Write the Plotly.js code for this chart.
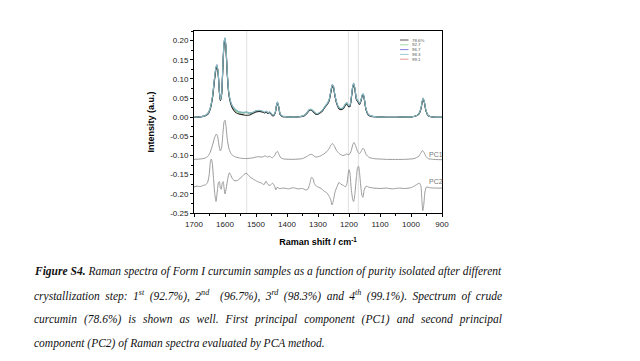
<!DOCTYPE html>
<html>
<head>
<meta charset="utf-8">
<script src="https://cdn.plot.ly/plotly-3.0.1.min.js"></script>
<style>html,body{margin:0;padding:0;background:#fff;}#chart{width:640px;height:361px;}</style>
</head>
<body>
<div id="chart"></div>
<script>
// ---------- DATA ----------
const shift = [1700,1680,1665,1655,1648,1640,1634,1629,1626,1622,1618,1615,1611,1607,1603,1600,1597,1593,1588,1582,1575,1565,1553,1540,1530,1520,1510,1500,1490,1480,1472,1467,1462,1456,1450,1445,1438,1434,1431,1427,1422,1415,1400,1380,1360,1345,1335,1328,1322,1315,1305,1295,1285,1277,1270,1264,1258,1254,1250,1246,1240,1232,1224,1218,1212,1207,1202,1197,1192,1188,1185,1181,1176,1171,1166,1161,1157,1154,1150,1145,1138,1128,1110,1080,1050,1020,1000,985,975,968,964,961,957,952,945,935,920,900];

const s786 = [0.000,0.001,0.003,0.008,0.020,0.052,0.095,0.125,0.131,0.112,0.064,0.043,0.058,0.126,0.190,0.200,0.180,0.116,0.062,0.036,0.022,0.012,0.008,0.006,0.005,0.006,0.010,0.014,0.015,0.014,0.011,0.014,0.010,0.012,0.007,0.003,0.011,0.029,0.038,0.027,0.007,0.002,0.001,0.000,0.001,0.004,0.011,0.018,0.019,0.014,0.007,0.010,0.017,0.027,0.034,0.043,0.067,0.080,0.077,0.058,0.036,0.022,0.020,0.023,0.031,0.035,0.028,0.028,0.052,0.077,0.085,0.072,0.046,0.040,0.033,0.043,0.056,0.058,0.043,0.019,0.006,0.002,0.001,0.000,0.000,0.001,0.001,0.003,0.008,0.021,0.039,0.048,0.039,0.017,0.004,0.001,0.000,0.000];
const s927 = [0.000,0.001,0.004,0.010,0.022,0.055,0.099,0.129,0.135,0.114,0.065,0.045,0.060,0.129,0.194,0.205,0.184,0.119,0.064,0.039,0.026,0.017,0.012,0.011,0.012,0.010,0.012,0.016,0.017,0.015,0.012,0.015,0.011,0.013,0.008,0.004,0.012,0.030,0.039,0.028,0.008,0.002,0.001,0.000,0.001,0.004,0.012,0.019,0.020,0.015,0.008,0.011,0.018,0.028,0.035,0.045,0.069,0.083,0.079,0.060,0.038,0.024,0.022,0.025,0.033,0.037,0.030,0.030,0.055,0.079,0.087,0.075,0.048,0.042,0.035,0.045,0.058,0.060,0.045,0.020,0.007,0.003,0.001,0.000,0.000,0.001,0.001,0.003,0.008,0.022,0.040,0.049,0.040,0.018,0.005,0.001,0.000,0.000];
const s967 = [0.000,0.001,0.004,0.010,0.022,0.055,0.100,0.130,0.136,0.115,0.065,0.045,0.060,0.130,0.195,0.206,0.185,0.120,0.065,0.040,0.027,0.018,0.013,0.012,0.013,0.010,0.012,0.016,0.017,0.015,0.012,0.015,0.011,0.013,0.008,0.004,0.012,0.030,0.039,0.028,0.008,0.002,0.001,0.000,0.001,0.004,0.012,0.019,0.020,0.015,0.008,0.011,0.018,0.028,0.035,0.045,0.070,0.084,0.080,0.060,0.038,0.024,0.022,0.025,0.033,0.037,0.030,0.030,0.055,0.080,0.088,0.075,0.048,0.042,0.035,0.045,0.058,0.060,0.045,0.020,0.007,0.003,0.001,0.000,0.000,0.001,0.001,0.003,0.008,0.022,0.040,0.049,0.040,0.018,0.005,0.001,0.000,0.000];
const s983 = [0.000,0.001,0.004,0.010,0.022,0.056,0.101,0.131,0.137,0.116,0.066,0.046,0.061,0.131,0.196,0.207,0.186,0.121,0.066,0.041,0.028,0.019,0.014,0.013,0.014,0.011,0.013,0.017,0.018,0.016,0.013,0.016,0.012,0.014,0.009,0.005,0.013,0.031,0.040,0.029,0.009,0.003,0.001,0.000,0.001,0.005,0.012,0.020,0.021,0.016,0.009,0.012,0.019,0.029,0.036,0.046,0.071,0.085,0.081,0.061,0.039,0.025,0.023,0.026,0.034,0.038,0.031,0.031,0.056,0.081,0.089,0.076,0.049,0.043,0.036,0.046,0.059,0.061,0.046,0.021,0.008,0.003,0.001,0.000,0.000,0.001,0.001,0.003,0.009,0.023,0.041,0.050,0.041,0.019,0.005,0.001,0.000,0.000];
const s991 = [0.000,0.001,0.004,0.010,0.022,0.055,0.100,0.130,0.136,0.115,0.065,0.045,0.060,0.130,0.195,0.206,0.185,0.120,0.065,0.040,0.027,0.018,0.013,0.012,0.013,0.010,0.012,0.016,0.017,0.015,0.012,0.015,0.011,0.013,0.008,0.004,0.012,0.030,0.039,0.028,0.008,0.002,0.001,0.000,0.001,0.004,0.012,0.019,0.020,0.015,0.008,0.011,0.018,0.028,0.035,0.045,0.070,0.084,0.080,0.060,0.038,0.024,0.022,0.025,0.033,0.037,0.030,0.030,0.055,0.080,0.088,0.075,0.048,0.042,0.035,0.045,0.058,0.060,0.045,0.020,0.007,0.003,0.001,0.000,0.000,0.001,0.001,0.003,0.008,0.022,0.040,0.049,0.040,0.018,0.005,0.001,0.000,0.000];

const pc1Shift = [1700,1680,1665,1655,1648,1640,1633,1628,1624,1619,1615,1611,1607,1603,1600,1597,1593,1588,1582,1575,1565,1550,1530,1510,1495,1480,1470,1462,1456,1448,1440,1435,1431,1427,1420,1410,1380,1350,1335,1325,1318,1308,1295,1283,1272,1264,1258,1253,1248,1240,1230,1220,1212,1207,1200,1193,1188,1184,1179,1172,1166,1160,1155,1151,1145,1135,1120,1080,1020,990,975,968,963,958,952,945,930,900];
const pc1 = [-0.110,-0.109,-0.107,-0.102,-0.092,-0.072,-0.052,-0.044,-0.050,-0.075,-0.088,-0.080,-0.045,-0.012,-0.008,-0.022,-0.055,-0.080,-0.093,-0.100,-0.104,-0.107,-0.108,-0.106,-0.103,-0.104,-0.101,-0.104,-0.102,-0.106,-0.100,-0.092,-0.089,-0.095,-0.106,-0.109,-0.110,-0.108,-0.102,-0.097,-0.098,-0.104,-0.102,-0.097,-0.090,-0.082,-0.072,-0.069,-0.074,-0.087,-0.096,-0.100,-0.098,-0.096,-0.098,-0.088,-0.072,-0.066,-0.074,-0.090,-0.095,-0.088,-0.081,-0.084,-0.097,-0.105,-0.108,-0.110,-0.110,-0.108,-0.102,-0.093,-0.087,-0.092,-0.102,-0.108,-0.110,-0.111];

const pc2Shift = [1700,1690,1680,1670,1662,1656,1651,1647,1644,1641,1637,1633,1629,1625,1621,1618,1615,1612,1609,1606,1603,1600,1596,1591,1586,1582,1575,1568,1560,1552,1545,1538,1532,1526,1518,1508,1495,1482,1474,1468,1463,1458,1453,1447,1441,1436,1432,1425,1410,1395,1380,1365,1350,1340,1333,1327,1321,1316,1312,1305,1298,1290,1280,1272,1265,1259,1255,1251,1245,1238,1232,1226,1218,1212,1207,1203,1200,1197,1193,1188,1185,1181,1176,1172,1169,1166,1162,1158,1155,1151,1145,1135,1120,1100,1080,1060,1040,1020,1000,990,980,973,968,965,962,959,955,950,940,920,900];
const pc2 = [-0.182,-0.180,-0.181,-0.178,-0.176,-0.170,-0.150,-0.115,-0.109,-0.120,-0.160,-0.200,-0.220,-0.195,-0.170,-0.168,-0.185,-0.188,-0.172,-0.168,-0.185,-0.200,-0.185,-0.160,-0.145,-0.150,-0.162,-0.166,-0.165,-0.160,-0.155,-0.149,-0.146,-0.150,-0.157,-0.162,-0.168,-0.172,-0.176,-0.167,-0.174,-0.178,-0.177,-0.172,-0.178,-0.190,-0.183,-0.186,-0.185,-0.187,-0.184,-0.187,-0.186,-0.190,-0.188,-0.175,-0.157,-0.160,-0.173,-0.180,-0.183,-0.186,-0.193,-0.197,-0.205,-0.215,-0.229,-0.220,-0.195,-0.180,-0.170,-0.175,-0.178,-0.182,-0.175,-0.150,-0.137,-0.145,-0.185,-0.215,-0.220,-0.200,-0.155,-0.130,-0.128,-0.145,-0.180,-0.205,-0.209,-0.190,-0.180,-0.183,-0.185,-0.186,-0.185,-0.187,-0.185,-0.186,-0.184,-0.180,-0.175,-0.172,-0.180,-0.215,-0.244,-0.230,-0.195,-0.182,-0.184,-0.185,-0.185];

const seriesNames = ['78.6%','92.7','96.7','98.3','99.1'];
const seriesColors = ['#2b2b2b','#8fd48f','#6060d8','#86b9c4','#e07a7a'];
const seriesData = [s786, s927, s967, s983, s991];
const drawOrder = [4, 2, 1, 0, 3];
const refLines = [1530, 1202, 1170];
const pcLabels = ['PC1','PC2'];
const xTicks = [1700,1600,1500,1400,1300,1200,1100,1000,900];
const yTicks = [-0.25,-0.20,-0.15,-0.10,-0.05,0.00,0.05,0.10,0.15,0.20];

const captionLines = [
 '<b>Figure S4.</b> Raman spectra of Form I curcumin samples as a function of purity isolated after different',
 'crystallization step: 1<sup>st</sup> (92.7%), 2<sup>nd</sup>  (96.7%), 3<sup>rd</sup> (98.3%) and 4<sup>th</sup> (99.1%). Spectrum of crude',
 'curcumin (78.6%) is shown as well. First principal component (PC1) and second principal',
 'component (PC2) of Raman spectra evaluated by PCA method.'
];
const captionJustify = [true, true, true, false];

// ---------- LAYOUT HELPERS ----------
const W = 640, H = 361;
const M = {l:194, r:198, t:31, b:148};
const pw = W - M.l - M.r, ph = H - M.t - M.b;
const px = x => (x - M.l) / pw;
const py = y => (M.t + ph - y) / ph;

const traces = [];
drawOrder.forEach(i => {
  traces.push({x: shift, y: seriesData[i], type:'scatter', mode:'lines', name: seriesNames[i],
    line:{color: seriesColors[i], width:1.1, shape:'spline', smoothing:0.6}, showlegend:false, hoverinfo:'skip'});
});
traces.push({x: pc1Shift, y: pc1, type:'scatter', mode:'lines', name:'PC1',
  line:{color:'#9a9a9a', width:1, shape:'spline', smoothing:0.5}, showlegend:false});
traces.push({x: pc2Shift, y: pc2, type:'scatter', mode:'lines', name:'PC2',
  line:{color:'#9a9a9a', width:1, shape:'spline', smoothing:0.5}, showlegend:false});

const shapes = refLines.map(v => ({type:'line', xref:'x', yref:'paper', x0:v, x1:v, y0:0, y1:1,
  line:{color:'#e0e0e0', width:1}, layer:'below'}));

const annotations = [];
// legend (manual, compact)
const legTop = 40, legStep = 4.8;
seriesNames.forEach((n, i) => {
  const yy = legTop + i*legStep;
  shapes.push({type:'line', xref:'paper', yref:'paper', x0:px(400), x1:px(408.5), y0:py(yy), y1:py(yy),
    line:{color: seriesColors[i], width:0.8}});
  annotations.push({xref:'paper', yref:'paper', x:px(409.5), y:py(yy), text:n, showarrow:false,
    xanchor:'left', yanchor:'middle', font:{family:'Liberation Sans, Arial', size:4.4, color:'#555'}});
});
// PC labels
annotations.push({xref:'paper', yref:'paper', x:px(427), y:py(154), text:pcLabels[0], showarrow:false,
  xanchor:'left', yanchor:'middle', font:{family:'Liberation Sans, Arial', size:7, color:'#777'}});
annotations.push({xref:'paper', yref:'paper', x:px(427), y:py(181), text:pcLabels[1], showarrow:false,
  xanchor:'left', yanchor:'middle', font:{family:'Liberation Sans, Arial', size:7, color:'#777'}});
// caption
const capFirst = annotations.length;
const capY = [271.5, 295.5, 319.5, 343];
const capLeft = 32, capRight = 500;
captionLines.forEach((t, i) => {
  annotations.push({xref:'paper', yref:'paper', x:px(capLeft), y:py(capY[i]), text:'<i>'+t+'</i>', showarrow:false,
    xanchor:'left', yanchor:'middle', align:'left',
    font:{family:'Liberation Serif, Times New Roman, serif', size:11.5, color:'#111'}});
});

const axisCommon = {showline:true, linecolor:'#000', linewidth:1, mirror:true, ticks:'outside',
  ticklen:3, tickwidth:1, tickcolor:'#000', showgrid:false, zeroline:false,
  tickfont:{family:'Liberation Sans, Arial', size:8, color:'#222'}};

const layout = {
  width: W, height: H, margin: M, paper_bgcolor:'#fff', plot_bgcolor:'#fff', showlegend:false,
  xaxis: Object.assign({}, axisCommon, {range:[1700, 900], tickvals:xTicks, ticktext:xTicks.map(String),
    minor:{ticks:'outside', ticklen:2, dtick:50, tickcolor:'#000'},
    title:{text:'<b>Raman shift / cm<sup>-1</sup></b>', font:{family:'Liberation Sans, Arial', size:9, color:'#000'}, standoff:11}}),
  yaxis: Object.assign({}, axisCommon, {range:[-0.25, 0.225], tickvals:yTicks, ticktext:yTicks.map(v=>v.toFixed(2)),
    minor:{ticks:'outside', ticklen:2, dtick:0.025, tickcolor:'#000'},
    title:{text:'<b>Intensity (a.u.)</b>', font:{family:'Liberation Sans, Arial', size:9, color:'#000'}, standoff:14}}),
  shapes: shapes,
  annotations: annotations
};

Plotly.newPlot('chart', traces, layout, {staticPlot:true, displayModeBar:false}).then(gd => {
  // justify caption lines like the printed figure caption
  captionLines.forEach((t, i) => {
    if (!captionJustify[i]) return;
    const g = gd.querySelector('g.annotation[data-index="' + (capFirst + i) + '"] text.annotation-text');
    if (!g) return;
    const w = g.getBBox().width;
    const plain = t.replace(/<[^>]+>/g, '');
    const spaces = (plain.match(/ /g) || []).length;
    const extra = (capRight - capLeft) - w;
    if (spaces > 0 && extra > 0) g.style.wordSpacing = (extra / spaces) + 'px';
  });
});
</script>
</body>
</html>
